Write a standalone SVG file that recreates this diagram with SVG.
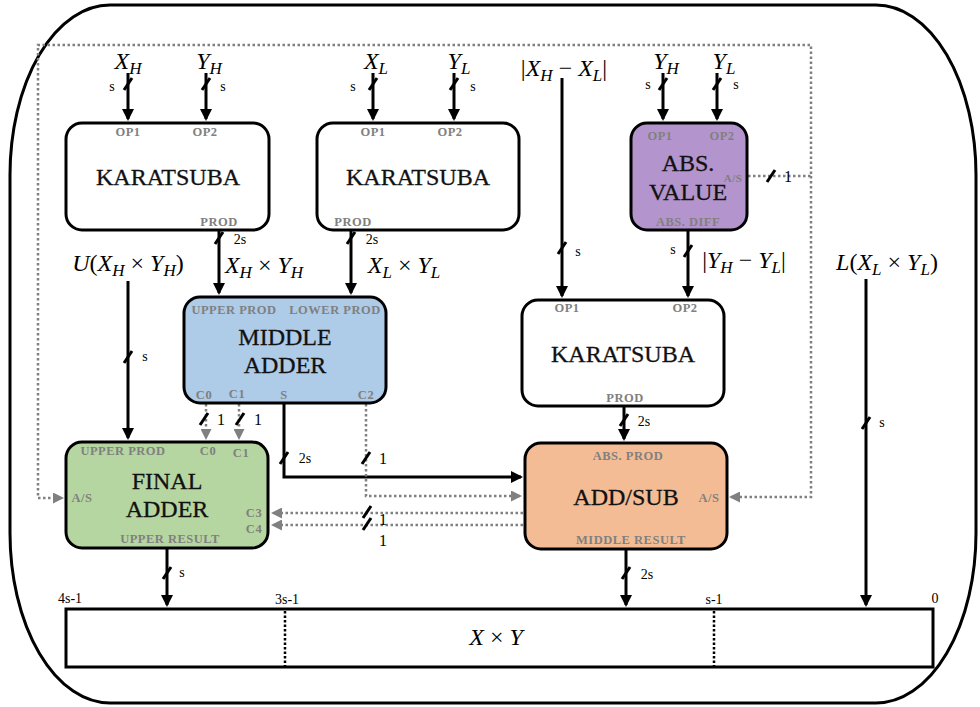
<svg xmlns="http://www.w3.org/2000/svg" xmlns:xlink="http://www.w3.org/1999/xlink" width="980" height="707" viewBox="0 0 980 707">
<style>
.box{stroke:#000;stroke-width:3}
.title{font-family:"Liberation Serif","DejaVu Serif",serif;font-size:24px;fill:#111;stroke:#111;stroke-width:0.3;text-anchor:middle}
.port{font-family:"Liberation Serif","DejaVu Serif",serif;font-size:12.5px;font-weight:bold;fill:#808080;text-anchor:middle;letter-spacing:0.5px}
.math{font-family:"Liberation Serif","DejaVu Serif",serif;font-size:24px;font-style:italic;fill:#000;text-anchor:middle}
.up{font-style:normal}
.sub{font-size:17px}
.lab{font-family:"Liberation Serif","DejaVu Serif",serif;font-size:14px;fill:#000}
.one{font-family:"Liberation Serif","DejaVu Serif",serif;font-size:16px;fill:#000}
.wire{fill:none;stroke:#000;stroke-width:3}
.ctl{fill:none;stroke:#808080;stroke-width:2.5;stroke-dasharray:2.5 2.5}
.slash{stroke:#000;stroke-width:3}
</style>
<defs>
<marker id="ah" markerUnits="userSpaceOnUse" markerWidth="12" markerHeight="12" refX="10" refY="6" orient="auto">
<path d="M0,0 L12,6 L0,12 z" fill="#000"/>
</marker>
<marker id="ag" markerUnits="userSpaceOnUse" markerWidth="11" markerHeight="11" refX="9" refY="5.5" orient="auto">
<path d="M0,0 L11,5.5 L0,11 z" fill="#808080"/>
</marker>
<path id="sl" d="M-4,6 L4,-6" class="slash"/>
</defs>

<rect id="frame" x="10" y="5" width="966" height="698" rx="100" ry="170" fill="none" stroke="#000" stroke-width="3"/>

<g id="connectors">
<path class="wire" marker-end="url(#ah)" d="M128,73 V119"/>
<path class="wire" marker-end="url(#ah)" d="M206,73 V119"/>
<path class="wire" marker-end="url(#ah)" d="M373,73 V119"/>
<path class="wire" marker-end="url(#ah)" d="M454,73 V119"/>
<path class="wire" marker-end="url(#ah)" d="M663,73 V119"/>
<path class="wire" marker-end="url(#ah)" d="M717,73 V119"/>
<path class="wire" marker-end="url(#ah)" d="M562,78 V296"/>
<path class="wire" marker-end="url(#ah)" d="M688,230 V296"/>
<path class="wire" marker-end="url(#ah)" d="M219,230 V293"/>
<path class="wire" marker-end="url(#ah)" d="M351,230 V293"/>
<path class="wire" marker-end="url(#ah)" d="M128,281 V438"/>
<path class="wire" marker-end="url(#ah)" d="M866,279 V605"/>
<path class="wire" marker-end="url(#ah)" d="M284,403 V477 H521"/>
<path class="wire" marker-end="url(#ah)" d="M624,406 V439"/>
<path class="wire" marker-end="url(#ah)" d="M167,548 V605"/>
<path class="wire" marker-end="url(#ah)" d="M626,549 V605"/>

<path class="ctl" marker-end="url(#ag)" d="M748,176 H811 V45 H38 V498 H62"/>
<path class="ctl" marker-end="url(#ag)" d="M811,176 V497 H731"/>
<path class="ctl" marker-end="url(#ag)" d="M206,404 V438"/>
<path class="ctl" marker-end="url(#ag)" d="M239,404 V438"/>
<path class="ctl" marker-end="url(#ag)" d="M366,404 V496 H520"/>
<path class="ctl" marker-end="url(#ag)" d="M523,513 H273"/>
<path class="ctl" marker-end="url(#ag)" d="M523,525 H273"/>

<use xlink:href="#sl" x="128" y="84"/>
<use xlink:href="#sl" x="206" y="84"/>
<use xlink:href="#sl" x="373" y="84"/>
<use xlink:href="#sl" x="454" y="84"/>
<use xlink:href="#sl" x="663" y="84"/>
<use xlink:href="#sl" x="717" y="84"/>
<use xlink:href="#sl" x="219" y="238"/>
<use xlink:href="#sl" x="351" y="238"/>
<use xlink:href="#sl" x="128" y="357"/>
<use xlink:href="#sl" x="562" y="248"/>
<use xlink:href="#sl" x="688" y="251"/>
<use xlink:href="#sl" x="866" y="423"/>
<use xlink:href="#sl" x="204" y="419"/>
<use xlink:href="#sl" x="240" y="419"/>
<use xlink:href="#sl" x="284" y="458"/>
<use xlink:href="#sl" x="366" y="458"/>
<use xlink:href="#sl" x="624" y="420"/>
<use xlink:href="#sl" x="367" y="512"/>
<use xlink:href="#sl" x="367" y="524"/>
<use xlink:href="#sl" x="167" y="573"/>
<use xlink:href="#sl" x="626" y="573"/>
<use xlink:href="#sl" x="771" y="176"/>

<text class="lab" x="112" y="91" text-anchor="middle">s</text>
<text class="lab" x="223" y="91" text-anchor="middle">s</text>
<text class="lab" x="353" y="91" text-anchor="middle">s</text>
<text class="lab" x="473" y="91" text-anchor="middle">s</text>
<text class="lab" x="648" y="89" text-anchor="middle">s</text>
<text class="lab" x="736" y="89" text-anchor="middle">s</text>
<text class="lab" x="240" y="244" text-anchor="middle">2s</text>
<text class="lab" x="372" y="244" text-anchor="middle">2s</text>
<text class="lab" x="145" y="361" text-anchor="middle">s</text>
<text class="lab" x="578" y="256" text-anchor="middle">s</text>
<text class="lab" x="673" y="254" text-anchor="middle">s</text>
<text class="lab" x="882" y="427" text-anchor="middle">s</text>
<text class="one" x="221" y="425" text-anchor="middle">1</text>
<text class="one" x="258" y="425" text-anchor="middle">1</text>
<text class="lab" x="305" y="463" text-anchor="middle">2s</text>
<text class="one" x="383" y="464" text-anchor="middle">1</text>
<text class="lab" x="644" y="426" text-anchor="middle">2s</text>
<text class="one" x="383" y="525" text-anchor="middle">1</text>
<text class="one" x="383" y="546" text-anchor="middle">1</text>
<text class="lab" x="182" y="577" text-anchor="middle">s</text>
<text class="lab" x="647" y="579" text-anchor="middle">2s</text>
<text class="one" x="788" y="182" text-anchor="middle">1</text>

<text class="math" x="128" y="69">X<tspan class="sub" dy="5">H</tspan></text>
<text class="math" x="209" y="69">Y<tspan class="sub" dy="5">H</tspan></text>
<text class="math" x="376" y="69">X<tspan class="sub" dy="5">L</tspan></text>
<text class="math" x="459" y="69">Y<tspan class="sub" dy="5">L</tspan></text>
<text class="math" x="666" y="69">Y<tspan class="sub" dy="5">H</tspan></text>
<text class="math" x="724" y="69">Y<tspan class="sub" dy="5">L</tspan></text>
<text class="math" x="564" y="76"><tspan class="up">|</tspan>X<tspan class="sub" dy="5">H</tspan><tspan class="up" dy="-5"> − </tspan>X<tspan class="sub" dy="5">L</tspan><tspan class="up" dy="-5">|</tspan></text>
<text class="math" x="128" y="271">U<tspan class="up">(</tspan>X<tspan class="sub" dy="5">H</tspan><tspan class="up" dy="-5"> × </tspan>Y<tspan class="sub" dy="5">H</tspan><tspan class="up" dy="-5">)</tspan></text>
<text class="math" x="264" y="273">X<tspan class="sub" dy="5">H</tspan><tspan class="up" dy="-5"> × </tspan>Y<tspan class="sub" dy="5">H</tspan></text>
<text class="math" x="404" y="273">X<tspan class="sub" dy="5">L</tspan><tspan class="up" dy="-5"> × </tspan>Y<tspan class="sub" dy="5">L</tspan></text>
<text class="math" x="744" y="268"><tspan class="up">|</tspan>Y<tspan class="sub" dy="5">H</tspan><tspan class="up" dy="-5"> − </tspan>Y<tspan class="sub" dy="5">L</tspan><tspan class="up" dy="-5">|</tspan></text>
<text class="math" x="887" y="270">L<tspan class="up">(</tspan>X<tspan class="sub" dy="5">L</tspan><tspan class="up" dy="-5"> × </tspan>Y<tspan class="sub" dy="5">L</tspan><tspan class="up" dy="-5">)</tspan></text>
</g>

<g id="karatsuba1">
<rect class="box" x="66" y="123" width="203" height="107" rx="16" fill="#fff"/>
<text class="port" x="128" y="136">OP1</text>
<text class="port" x="205" y="136">OP2</text>
<text class="port" x="219" y="226">PROD</text>
<text class="title" x="168" y="185">KARATSUBA</text>
</g>

<g id="karatsuba2">
<rect class="box" x="317" y="123" width="202" height="107" rx="16" fill="#fff"/>
<text class="port" x="373" y="136">OP1</text>
<text class="port" x="450" y="136">OP2</text>
<text class="port" x="353" y="226">PROD</text>
<text class="title" x="418" y="185">KARATSUBA</text>
</g>

<g id="absvalue">
<rect class="box" x="631" y="123" width="116" height="107" rx="16" fill="#b394cc"/>
<text class="port" x="660" y="140">OP1</text>
<text class="port" x="722" y="140">OP2</text>
<text class="title" x="688" y="171">ABS.</text>
<text class="title" x="688" y="200">VALUE</text>
<text class="port" x="733" y="182" style="font-size:11px">A/S</text>
<text class="port" x="688" y="226">ABS. DIFF</text>
</g>

<g id="karatsuba3">
<rect class="box" x="522" y="300" width="202" height="106" rx="16" fill="#fff"/>
<text class="port" x="567" y="312">OP1</text>
<text class="port" x="685" y="312">OP2</text>
<text class="title" x="623" y="362">KARATSUBA</text>
<text class="port" x="625" y="402">PROD</text>
</g>

<g id="middleadder">
<rect class="box" x="184" y="297" width="202" height="106" rx="16" fill="#aecbe8"/>
<text class="port" x="234" y="314">UPPER PROD</text>
<text class="port" x="335" y="314">LOWER PROD</text>
<text class="title" x="285" y="345">MIDDLE</text>
<text class="title" x="285" y="373">ADDER</text>
<text class="port" x="204" y="399">C0</text>
<text class="port" x="237" y="398">C1</text>
<text class="port" x="284" y="399">S</text>
<text class="port" x="366" y="399">C2</text>
</g>

<g id="finaladder">
<rect class="box" x="66" y="442" width="202" height="106" rx="16" fill="#b6d6a1"/>
<text class="port" x="123" y="455">UPPER PROD</text>
<text class="port" x="208" y="455">C0</text>
<text class="port" x="241" y="457">C1</text>
<text class="title" x="167" y="489">FINAL</text>
<text class="title" x="167" y="517">ADDER</text>
<text class="port" x="82" y="502">A/S</text>
<text class="port" x="254" y="517">C3</text>
<text class="port" x="254" y="533">C4</text>
<text class="port" x="170" y="543">UPPER RESULT</text>
</g>

<g id="addsub">
<rect class="box" x="525" y="443" width="202" height="106" rx="16" fill="#f4bc94"/>
<text class="port" x="628" y="460">ABS. PROD</text>
<text class="title" x="626" y="505">ADD/SUB</text>
<text class="port" x="709" y="502">A/S</text>
<text class="port" x="631" y="544">MIDDLE RESULT</text>
</g>

<g id="result">
<rect x="66" y="609" width="867" height="58" fill="#fff" stroke="#000" stroke-width="3"/>
<path d="M285,611 V666 M714,611 V666" stroke="#000" stroke-width="2.5" stroke-dasharray="2.5 2"/>
<text class="lab" x="70" y="603" text-anchor="middle">4s-1</text>
<text class="lab" x="287" y="604" text-anchor="middle">3s-1</text>
<text class="lab" x="714" y="604" text-anchor="middle">s-1</text>
<text class="lab" x="935" y="603" text-anchor="middle">0</text>
<text class="math" x="496" y="645">X<tspan class="up"> × </tspan>Y</text>
</g>
</svg>
